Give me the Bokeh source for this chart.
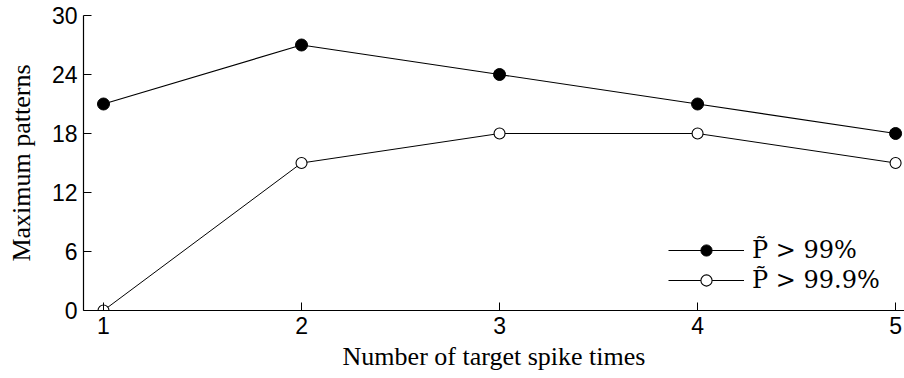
from bokeh.plotting import figure
from bokeh.models import Range1d, FixedTicker, Legend
from bokeh.embed import file_html
from bokeh.resources import INLINE

x_vals = [1, 2, 3, 4, 5]
p99 = [21, 27, 24, 21, 18]
p999 = [0, 15, 18, 18, 15]
y_ticks = [0, 6, 12, 18, 24, 30]
x_ticks = [1, 2, 3, 4, 5]
labels = ["P\u0303 > 99%", "P\u0303 > 99.9%"]

p = figure(width=904, height=378, output_backend="svg", toolbar_location=None,
           x_range=Range1d(0.899, 5.045), y_range=Range1d(0, 30),
           min_border_left=83, min_border_right=0, min_border_top=15, min_border_bottom=68)
p.outline_line_color = None
p.xgrid.visible = False
p.ygrid.visible = False

r1l = p.line(x_vals, p99, line_color="black", line_width=1.2)
r1s = p.scatter(x_vals, p99, size=12, marker="circle", fill_color="black", line_color="black")
r2l = p.line(x_vals, p999, line_color="black", line_width=1.0)
r2s = p.scatter(x_vals, p999, size=11, marker="circle", fill_color="white", line_color="black", line_width=1.1)

for ax in (p.xaxis[0], p.yaxis[0]):
    ax.major_tick_in = 8
    ax.major_tick_out = 0
    ax.minor_tick_in = 0
    ax.minor_tick_out = 0
    ax.axis_line_color = "black"
    ax.axis_line_width = 1.2
    ax.major_tick_line_color = "black"
    ax.major_label_text_font = "Liberation Sans"
    ax.major_label_text_font_size = "23px"
    ax.major_label_text_color = "black"
    ax.axis_label_text_font = "Liberation Serif"
    ax.axis_label_text_font_size = "26px"
    ax.axis_label_text_font_style = "normal"
    ax.axis_label_text_color = "black"
    ax.major_label_standoff = 6

p.xaxis.ticker = FixedTicker(ticks=x_ticks)
p.yaxis.ticker = FixedTicker(ticks=y_ticks)
p.xaxis.axis_label = "Number of target spike times"
p.yaxis.axis_label = "Maximum patterns"
p.xaxis.axis_label_standoff = 5
p.yaxis.axis_label_standoff = 13

legend = Legend(items=[(labels[0], [r1l, r1s]), (labels[1], [r2l, r2s])],
                location=(585, 16))
legend.border_line_color = None
legend.background_fill_alpha = 0
legend.glyph_width = 76
legend.glyph_height = 28
legend.label_text_font = "DejaVu Serif"
legend.label_text_font_size = "24px"
legend.label_text_color = "black"
legend.label_standoff = 8
legend.spacing = 2
legend.padding = 0
legend.margin = 0
legend.label_height = 28
p.add_layout(legend, "center")

open("out.html", "w").write(file_html(p, INLINE))
